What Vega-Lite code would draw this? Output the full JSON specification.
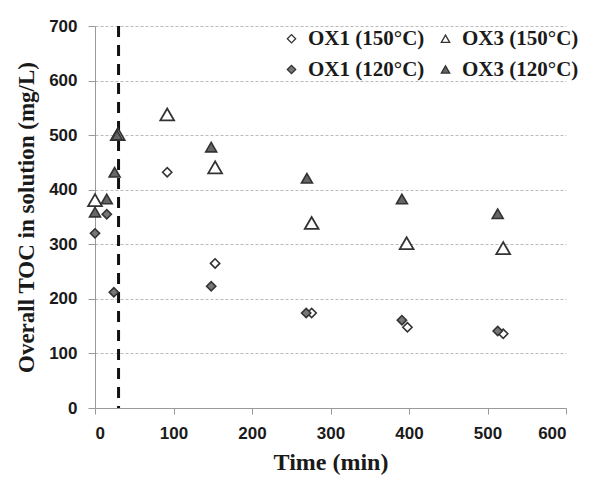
{
  "$schema": "https://vega.github.io/schema/vega-lite/v6.json",
  "autosize": "none",
  "width": 471,
  "height": 382,
  "padding": {"left": 95, "top": 26, "right": 27, "bottom": 69},
  "background": "white",
  "datasets": {
    "pts": [
      {"time": 92, "toc": 432, "series": "OX1 (150°C)"},
      {"time": 153, "toc": 265, "series": "OX1 (150°C)"},
      {"time": 276, "toc": 174, "series": "OX1 (150°C)"},
      {"time": 398, "toc": 148, "series": "OX1 (150°C)"},
      {"time": 520, "toc": 136, "series": "OX1 (150°C)"},
      {"time": 0, "toc": 320, "series": "OX1 (120°C)"},
      {"time": 15, "toc": 355, "series": "OX1 (120°C)"},
      {"time": 24, "toc": 212, "series": "OX1 (120°C)"},
      {"time": 148, "toc": 223, "series": "OX1 (120°C)"},
      {"time": 269, "toc": 174, "series": "OX1 (120°C)"},
      {"time": 391, "toc": 161, "series": "OX1 (120°C)"},
      {"time": 513, "toc": 141, "series": "OX1 (120°C)"},
      {"time": 0, "toc": 381, "series": "OX3 (150°C)"},
      {"time": 29, "toc": 502, "series": "OX3 (150°C)"},
      {"time": 92, "toc": 538, "series": "OX3 (150°C)"},
      {"time": 153, "toc": 441, "series": "OX3 (150°C)"},
      {"time": 276, "toc": 339, "series": "OX3 (150°C)"},
      {"time": 397, "toc": 302, "series": "OX3 (150°C)"},
      {"time": 520, "toc": 293, "series": "OX3 (150°C)"},
      {"time": 0, "toc": 359, "series": "OX3 (120°C)"},
      {"time": 15, "toc": 383, "series": "OX3 (120°C)"},
      {"time": 25, "toc": 432, "series": "OX3 (120°C)"},
      {"time": 28, "toc": 500, "series": "OX3 (120°C)"},
      {"time": 148, "toc": 478, "series": "OX3 (120°C)"},
      {"time": 270, "toc": 421, "series": "OX3 (120°C)"},
      {"time": 391, "toc": 383, "series": "OX3 (120°C)"},
      {"time": 513, "toc": 356, "series": "OX3 (120°C)"}
    ],
    "marker": [{"time": 30}]
  },
  "config": {
    "view": {"stroke": null},
    "axis": {
      "labelFont": "Liberation Sans",
      "labelFontWeight": "bold",
      "labelFontSize": 17,
      "labelColor": "#1a1a1a",
      "titleFont": "Liberation Serif",
      "titleFontWeight": "bold",
      "titleFontSize": 24,
      "titleColor": "#1a1a1a",
      "domainColor": "#999",
      "tickColor": "#999",
      "tickSize": 6
    }
  },
  "encoding": {
    "x": {
      "field": "time",
      "type": "quantitative",
      "scale": {"domain": [0, 600], "nice": false},
      "axis": {"title": "Time (min)", "values": [0, 100, 200, 300, 400, 500, 600], "grid": false, "labelPadding": 11, "titlePadding": 9}
    },
    "y": {
      "field": "toc",
      "type": "quantitative",
      "scale": {"domain": [0, 700], "nice": false},
      "axis": {"title": "Overall TOC in solution (mg/L)", "titleFontSize": 23, "values": [0, 100, 200, 300, 400, 500, 600, 700], "grid": true, "gridColor": "#bbb", "gridDash": [3, 2], "tickSize": 7, "labelPadding": 11, "titlePadding": 10}
    },
    "shape": {
      "field": "series",
      "type": "nominal",
      "scale": {
        "domain": ["OX1 (150°C)", "OX1 (120°C)", "OX3 (150°C)", "OX3 (120°C)"],
        "range": ["diamond", "diamond", "triangle-up", "triangle-up"]
      },
      "legend": {
        "title": null,
        "orient": "none",
        "legendX": 186,
        "legendY": 2,
        "columns": 2,
        "columnPadding": 10,
        "rowPadding": 9,
        "fillColor": "white",
        "labelFont": "Liberation Serif",
        "labelFontWeight": "bold",
        "labelFontSize": 21,
        "labelColor": "#1a1a1a",
        "symbolSize": 70,
        "symbolStrokeWidth": 1.3,
        "labelOffset": 6
      }
    },
    "fill": {
      "field": "series",
      "type": "nominal",
      "scale": {
        "domain": ["OX1 (150°C)", "OX1 (120°C)", "OX3 (150°C)", "OX3 (120°C)"],
        "range": ["#ffffff", "#777777", "#ffffff", "#666666"]
      }
    },
    "stroke": {
      "field": "series",
      "type": "nominal",
      "scale": {
        "domain": ["OX1 (150°C)", "OX1 (120°C)", "OX3 (150°C)", "OX3 (120°C)"],
        "range": ["#333333", "#333333", "#333333", "#333333"]
      }
    }
  },
  "layer": [
    {
      "data": {"name": "marker"},
      "mark": {"type": "rule", "color": "#111", "strokeWidth": 3, "strokeDash": [11, 8]},
      "encoding": {"y": null, "shape": null, "fill": null, "stroke": null}
    },
    {
      "data": {"name": "pts"},
      "transform": [{"filter": "indexof(datum.series, 'OX1') == 0"}],
      "mark": {"type": "point", "filled": true, "size": 85, "strokeWidth": 1.6, "opacity": 1}
    },
    {
      "data": {"name": "pts"},
      "transform": [{"filter": "datum.series == 'OX3 (150°C)'"}],
      "mark": {"type": "point", "filled": true, "size": 190, "strokeWidth": 1.8, "opacity": 1}
    },
    {
      "data": {"name": "pts"},
      "transform": [{"filter": "datum.series == 'OX3 (120°C)'"}],
      "mark": {"type": "point", "filled": true, "size": 120, "strokeWidth": 1.6, "opacity": 1}
    }
  ]
}
